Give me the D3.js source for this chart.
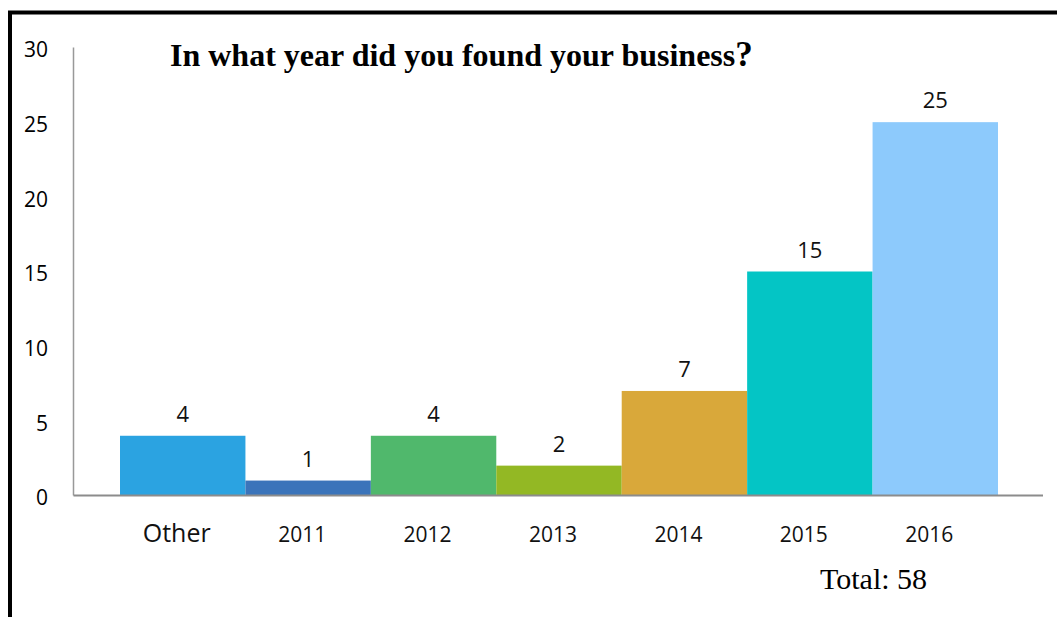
<!DOCTYPE html>
<html>
<head>
<meta charset="utf-8">
<script src="https://cdn.jsdelivr.net/npm/d3@7"></script>
<style>
  html, body { margin: 0; padding: 0; background: #fff; }
  svg { display: block; }
</style>
</head>
<body>
<svg id="chart" width="1057" height="617"></svg>
<script>
// Survey answers: founding year of each business
const categories = ["Other", "2011", "2012", "2013", "2014", "2015", "2016"];
const counts = [4, 1, 4, 2, 7, 15, 25];
const barColors = ["#2BA3E1", "#3B74BA", "#50B86C", "#93B824", "#D9A83A", "#04C5C5", "#8DCAFC"];
const yTicks = [0, 5, 10, 15, 20, 25, 30];
const titleText = "In what year did you found your business";
const totalText = "Total: " + d3.sum(counts);

const svg = d3.select("#chart");
const W = 1057, H = 617;

const numFont = "'Open Sans', Lato, sans-serif";
const serifFont = "'Liberation Serif', 'Times New Roman', serif";

// frame: heavy rule along the top and left edges
svg.append("path")
  .attr("d", `M10,${H} V12.5 H${W}`)
  .attr("fill", "none")
  .attr("stroke", "#000")
  .attr("stroke-width", 4);

const x = d3.scaleBand()
  .domain(categories)
  .range([120, 998])
  .padding(0);

const y = d3.scaleLinear()
  .domain([0, 30])
  .range([495.5, 47.5]);

// y axis: plain vertical rule with labels set off to the left
svg.append("line")
  .attr("x1", 73.5).attr("x2", 73.5)
  .attr("y1", y(30)).attr("y2", y(0))
  .attr("stroke", "#999").attr("stroke-width", 1.5);

const yAxis = d3.axisLeft(y).tickValues(yTicks).tickSize(0).tickPadding(0);
const gy = svg.append("g")
  .attr("transform", "translate(48,2)")
  .call(yAxis);
gy.select(".domain").remove();
gy.selectAll("text")
  .attr("font-family", numFont)
  .attr("font-size", 21)
  .attr("fill", "#000")
  .attr("dy", "0.35em");

// bars
svg.append("g")
  .selectAll("rect")
  .data(categories)
  .join("rect")
  .attr("x", d => x(d))
  .attr("width", x.bandwidth())
  .attr("y", (d, i) => y(counts[i]))
  .attr("height", (d, i) => y(0) - y(counts[i]))
  .attr("fill", (d, i) => barColors[i]);

// baseline
svg.append("line")
  .attr("x1", 73.5).attr("x2", 1043)
  .attr("y1", y(0)).attr("y2", y(0))
  .attr("stroke", "#8c8c8c").attr("stroke-width", 2);

// value labels above bars
svg.append("g")
  .selectAll("text")
  .data(categories)
  .join("text")
  .attr("x", d => x(d) + x.bandwidth() / 2)
  .attr("y", (d, i) => y(counts[i]) - 14)
  .attr("text-anchor", "middle")
  .attr("font-family", numFont)
  .attr("font-size", 22)
  .attr("fill", "#111")
  .text((d, i) => counts[i]);

// category labels
svg.append("g")
  .selectAll("text")
  .data(categories)
  .join("text")
  .attr("x", d => x(d) + x.bandwidth() / 2 - 6)
  .attr("y", 542)
  .attr("text-anchor", "middle")
  .attr("font-family", numFont)
  .attr("font-size", d => d === "Other" ? 25 : 21)
  .attr("fill", "#111")
  .text(d => d);

// title, with a slightly larger question mark
const title = svg.append("text")
  .attr("x", 170)
  .attr("y", 66)
  .attr("font-family", serifFont)
  .attr("font-weight", "bold")
  .attr("font-size", 32)
  .attr("fill", "#000");
title.append("tspan").text(titleText);
title.append("tspan").attr("font-size", 35).text("?");

// total count
svg.append("text")
  .attr("x", 820)
  .attr("y", 589)
  .attr("font-family", serifFont)
  .attr("font-size", 30)
  .attr("fill", "#000")
  .text(totalText);
</script>
</body>
</html>
